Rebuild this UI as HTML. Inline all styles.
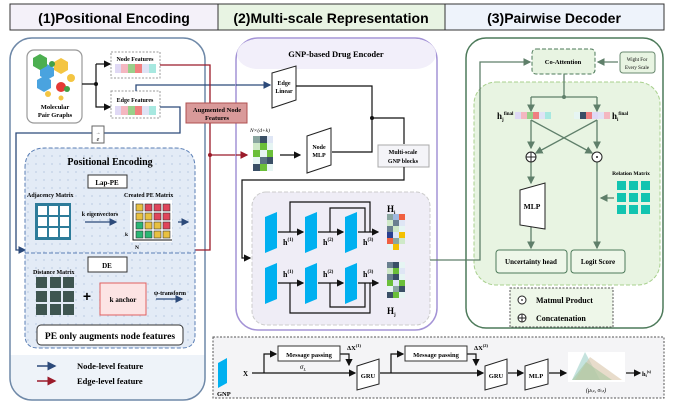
<!DOCTYPE html>
<html><head><meta charset="utf-8"><style>
html,body{margin:0;padding:0;background:#fff;}
svg{display:block;font-family:"Liberation Serif",serif;}
.s{font-family:"Liberation Sans",sans-serif;}
</style></head><body>
<svg width="674" height="403" viewBox="0 0 674 403" xmlns="http://www.w3.org/2000/svg">
<defs>
<marker id="ak" markerWidth="6" markerHeight="6" refX="5" refY="3" orient="auto"><path d="M0,0 L6,3 L0,6z" fill="#111"/></marker>
<marker id="ab" markerWidth="6" markerHeight="6" refX="5" refY="3" orient="auto"><path d="M0,0 L6,3 L0,6z" fill="#2c4a7a"/></marker>
<marker id="ar" markerWidth="6" markerHeight="6" refX="5" refY="3" orient="auto"><path d="M0,0 L6,3 L0,6z" fill="#9b1b2a"/></marker>
<marker id="ag" markerWidth="6" markerHeight="6" refX="5" refY="3" orient="auto"><path d="M0,0 L6,3 L0,6z" fill="#5f7f6a"/></marker>
<pattern id="dots" width="8" height="8" patternUnits="userSpaceOnUse"><rect width="8" height="8" fill="#e3ebf6"/><circle cx="4" cy="4" r="1" fill="#c9d6ea"/></pattern>
<clipPath id="p1"><rect x="10" y="38" width="195" height="362" rx="22"/></clipPath>
</defs>
<!-- headers -->
<rect x="10" y="4" width="208" height="26" fill="#f4f1f9" stroke="#333" stroke-width="1"/>
<rect x="218" y="4" width="227" height="26" fill="#e8f4e3" stroke="#333" stroke-width="1"/>
<rect x="445" y="4" width="219" height="26" fill="#eef3fb" stroke="#333" stroke-width="1"/>
<text x="114" y="23" text-anchor="middle" class="s" font-size="14" font-weight="bold">(1)Positional Encoding</text>
<text x="331" y="23" text-anchor="middle" class="s" font-size="14" font-weight="bold">(2)Multi-scale Representation</text>
<text x="554" y="23" text-anchor="middle" class="s" font-size="14" font-weight="bold">(3)Pairwise Decoder</text>

<!-- panel 1 -->
<rect x="10" y="38" width="195" height="362" rx="22" fill="#fff"/>
<rect x="10" y="355" width="195" height="50" fill="#eef3f9" clip-path="url(#p1)"/>
<rect x="10" y="38" width="195" height="362" rx="22" fill="none" stroke="#6f89a8" stroke-width="1.5"/>
<rect x="27" y="50" width="55" height="73" rx="7" fill="#fff" stroke="#999" stroke-width="1.2"/>
<polygon points="40,68 47,64 54,68 54,76 47,80 40,76" fill="#4aa3df"/>
<polygon points="33,58 40,54 47,58 47,66 40,70 33,66" fill="#4caf50"/>
<polygon points="54,62 61,58 68,62 68,70 61,74 54,70" fill="#f4c542"/>
<polygon points="37,80 44,76 51,80 51,88 44,92 37,88" fill="#4aa3df"/>
<circle cx="71" cy="78" r="4" fill="#f4c542"/><circle cx="61" cy="87" r="5" fill="#e53935"/><circle cx="67" cy="89" r="3" fill="#43a047"/><circle cx="52" cy="64" r="3" fill="#43a047"/><circle cx="48" cy="94" r="3" fill="#f4c542"/><circle cx="61" cy="98" r="2.5" fill="#f4c542"/>
<text x="55" y="109" text-anchor="middle" font-size="6.5" font-weight="bold">Molecular</text>
<text x="55" y="117" text-anchor="middle" font-size="6.5" font-weight="bold">Pair Graphs</text>
<path d="M82,84 L96,84 M96,84 L96,64 M96,84 L96,107 L110,107" stroke="#111" fill="none" stroke-width="1.2" marker-end="url(#ak)"/>
<path d="M96,64 L110,64" stroke="#111" stroke-width="1.2" marker-end="url(#ak)"/>
<circle cx="96" cy="84" r="2" fill="#111"/>
<rect x="111" y="52" width="49" height="26" fill="#fff" stroke="#999" stroke-dasharray="2,1.5"/>
<text x="135" y="61" text-anchor="middle" font-size="6" font-weight="bold">Node Features</text>
<rect x="115" y="64" width="6" height="9" fill="#e0d9f5"/><rect x="121" y="64" width="7" height="9" fill="#f4b7c0"/><rect x="128" y="64" width="7" height="9" fill="#99d08a"/><rect x="135" y="64" width="7" height="9" fill="#f08080"/><rect x="142" y="64" width="7" height="9" fill="#dfe3f5"/><rect x="149" y="64" width="7" height="9" fill="#a7e8e0"/>
<rect x="111" y="91" width="49" height="27" fill="#fff" stroke="#999" stroke-dasharray="2,1.5"/>
<text x="135" y="102" text-anchor="middle" font-size="6" font-weight="bold">Edge Features</text>
<rect x="115" y="106" width="6" height="9" fill="#e0d9f5"/><rect x="121" y="106" width="7" height="9" fill="#f4b7c0"/><rect x="128" y="106" width="7" height="9" fill="#99d08a"/><rect x="135" y="106" width="7" height="9" fill="#f08080"/><rect x="142" y="106" width="7" height="9" fill="#dfe3f5"/><rect x="149" y="106" width="7" height="9" fill="#a7e8e0"/>
<!-- blue lines -->
<path d="M136,91 L136,85 L270,85" stroke="#2c4a7a" fill="none" stroke-width="1.3" marker-end="url(#ab)"/>
<path d="M160,107 L180,107 L180,133 L16,133 L16,250 L25,250" stroke="#2c4a7a" fill="none" stroke-width="1.3" marker-end="url(#ab)"/>
<rect x="92" y="126" width="12" height="17" fill="#fff" stroke="#666"/>
<text x="98" y="134" text-anchor="middle" font-size="5">→</text><text x="98" y="141" text-anchor="middle" font-size="6" font-style="italic">e</text>
<!-- red lines -->
<path d="M160,65 L210,65 L210,250 L195,250" stroke="#9b1b2a" fill="none" stroke-width="1.3"/>
<path d="M210,155 L247,155" stroke="#9b1b2a" stroke-width="1.3" marker-end="url(#ar)"/>
<circle cx="210" cy="155" r="2" fill="#9b1b2a"/>
<!-- PE region -->
<path d="M25,168 Q25,148 45,148 L175,148 Q195,148 195,168 L195,335 Q195,348 182,348 L38,348 Q25,348 25,335z" fill="url(#dots)" stroke="#5b7fb5" stroke-dasharray="4,2"/>
<text x="110" y="165" text-anchor="middle" font-size="10" font-weight="bold">Positional Encoding</text>
<rect x="88" y="175" width="39" height="13" fill="#fff" stroke="#333"/>
<text x="107" y="185" text-anchor="middle" font-size="7" font-weight="bold">Lap-PE</text>
<text x="27" y="197" font-size="6" font-weight="bold">Adjacency Matrix</text>
<text x="124" y="197" font-size="6" font-weight="bold">Created  PE Matrix</text>
<rect x="35" y="203" width="36" height="37" fill="#2e7c9a"/>
<g fill="#fff"><rect x="38" y="206" width="9" height="9"/><rect x="49" y="206" width="9" height="9"/><rect x="60" y="206" width="9" height="9"/><rect x="38" y="217" width="9" height="9"/><rect x="49" y="217" width="9" height="9"/><rect x="60" y="217" width="9" height="9"/><rect x="38" y="228" width="9" height="9"/><rect x="49" y="228" width="9" height="9"/><rect x="60" y="228" width="9" height="9"/></g>
<text x="100" y="216" text-anchor="middle" font-size="6" font-weight="bold">k eigenvectors</text>
<path d="M85,222 L116,222" stroke="#2c4a7a" stroke-width="1.3" marker-end="url(#ab)"/>
<rect x="130" y="200" width="42" height="42" fill="#fff"/>
<path d="M133,201 L133,240 L172,240" stroke="#111" fill="none"/>
<g stroke="#333" stroke-width="0.6">
<rect x="136" y="204" width="7" height="7" fill="#e8c040"/><rect x="145" y="204" width="7" height="7" fill="#e0455a"/><rect x="154" y="204" width="7" height="7" fill="#e0455a"/><rect x="163" y="204" width="7" height="7" fill="#e0455a"/>
<rect x="136" y="213" width="7" height="7" fill="#e8c040"/><rect x="145" y="213" width="7" height="7" fill="#e8c040"/><rect x="154" y="213" width="7" height="7" fill="#e0455a"/><rect x="163" y="213" width="7" height="7" fill="#e0455a"/>
<rect x="136" y="222" width="7" height="7" fill="#2bb673"/><rect x="145" y="222" width="7" height="7" fill="#e8c040"/><rect x="154" y="222" width="7" height="7" fill="#e8c040"/><rect x="163" y="222" width="7" height="7" fill="#e0455a"/>
<rect x="136" y="231" width="7" height="7" fill="#2bb673"/><rect x="145" y="231" width="7" height="7" fill="#2bb673"/><rect x="154" y="231" width="7" height="7" fill="#e8c040"/><rect x="163" y="231" width="7" height="7" fill="#e8c040"/></g>
<text x="125" y="236" font-size="5.5" font-weight="bold">k</text><text x="135" y="249" font-size="5.5" font-weight="bold">N</text>
<path d="M178,222 L188,222" stroke="#2c4a7a" stroke-width="1.3" marker-end="url(#ab)"/>
<line x1="25" y1="253" x2="195" y2="253" stroke="#5b7fb5" stroke-dasharray="4,2"/>
<rect x="88" y="257" width="39" height="15" fill="#fff" stroke="#333"/>
<text x="107" y="268" text-anchor="middle" font-size="7" font-weight="bold">DE</text>
<text x="33" y="274" font-size="6" font-weight="bold">Distance Matrix</text>
<g fill="#3e5550"><rect x="36" y="277" width="11" height="11"/><rect x="50" y="277" width="11" height="11"/><rect x="63" y="277" width="11" height="11"/><rect x="36" y="291" width="11" height="11"/><rect x="50" y="291" width="11" height="11"/><rect x="63" y="291" width="11" height="11"/><rect x="36" y="304" width="11" height="11"/><rect x="50" y="304" width="11" height="11"/><rect x="63" y="304" width="11" height="11"/></g>
<text x="87" y="301" text-anchor="middle" font-size="14" font-weight="bold" class="s">+</text>
<rect x="100" y="283" width="46" height="32" fill="#fce4e4" stroke="#e06060"/>
<text x="123" y="302" text-anchor="middle" font-size="7" font-weight="bold">k anchor</text>
<text x="170" y="295" text-anchor="middle" font-size="6" font-weight="bold">ψ-transform</text>
<path d="M156,299 L182,299" stroke="#2c4a7a" stroke-width="1.3" marker-end="url(#ab)"/>
<rect x="37" y="325" width="146" height="20" rx="4" fill="#fff" stroke="#333"/>
<text x="110" y="339" text-anchor="middle" font-size="9.5" font-weight="bold">PE only augments node features</text>
<path d="M37,366 L55,366" stroke="#2c4a7a" stroke-width="1.5" marker-end="url(#ab)"/>
<path d="M37,381 L55,381" stroke="#9b1b2a" stroke-width="1.5" marker-end="url(#ar)"/>
<text x="77" y="369" font-size="8.5" font-weight="bold">Node-level feature</text>
<text x="77" y="384" font-size="8.5" font-weight="bold">Edge-level feature</text>

<!-- panel 2 -->
<rect x="236" y="38" width="201" height="292" rx="22" fill="#fff" stroke="#a493d6" stroke-width="1.5"/>
<rect x="237" y="39" width="199" height="30" rx="21" fill="#f2effa"/>
<text x="336" y="57" text-anchor="middle" font-size="8.5" font-weight="bold">GNP-based Drug Encoder</text>
<path d="M236,85 L270,85" stroke="#2c4a7a" stroke-width="1.3" marker-end="url(#ab)"/>
<path d="M236,155 L247,155" stroke="#9b1b2a" stroke-width="1.3" marker-end="url(#ar)"/>
<rect x="186" y="103" width="61" height="20" fill="#d99a9a" stroke="#b05050"/>
<text x="217" y="112" text-anchor="middle" font-size="6.5" font-weight="bold">Augmented Node</text>
<text x="217" y="120" text-anchor="middle" font-size="6.5" font-weight="bold">Features</text>
<polygon points="272,73 296,66 296,100 272,108" fill="#fff" stroke="#222"/>
<text x="284" y="85" text-anchor="middle" font-size="6" font-weight="bold">Edge</text><text x="284" y="93" text-anchor="middle" font-size="6" font-weight="bold">Linear</text>
<polygon points="307,136 331,128 331,165 307,173" fill="#fff" stroke="#222"/>
<text x="319" y="149" text-anchor="middle" font-size="6" font-weight="bold">Node</text><text x="319" y="157" text-anchor="middle" font-size="6" font-weight="bold">MLP</text>
<path d="M296,86 L372,86 L372,152 L332,152 M372,118 L404,118 L404,144" stroke="#111" fill="none" stroke-width="1.2"/>
<circle cx="372" cy="118" r="2" fill="#111"/>
<text x="250" y="132" font-size="5.5" font-style="italic">N×(d+k)</text>
<g><rect x="253" y="136" width="7" height="7" fill="#8aa6a0"/><rect x="260" y="136" width="7" height="7" fill="#3a4f66"/><rect x="267" y="136" width="6" height="7" fill="#dfe6f5"/>
<rect x="253" y="143" width="7" height="7" fill="#cfe9c8"/><rect x="260" y="143" width="7" height="7" fill="#6bbf3a"/><rect x="267" y="143" width="6" height="7" fill="#e6f5f3"/>
<rect x="253" y="150" width="7" height="7" fill="#6bbf3a"/><rect x="260" y="150" width="7" height="7" fill="#e6f5f3"/><rect x="267" y="150" width="6" height="7" fill="#6bbf3a"/>
<rect x="253" y="157" width="7" height="7" fill="#e6f5f3"/><rect x="260" y="157" width="7" height="7" fill="#5a7282"/><rect x="267" y="157" width="6" height="7" fill="#3a4f66"/>
<rect x="253" y="164" width="7" height="7" fill="#3a4f66"/><rect x="260" y="164" width="7" height="7" fill="#6bbf3a"/><rect x="267" y="164" width="6" height="7" fill="#e6f5f3"/></g>
<path d="M280,155 L300,155" stroke="#111" stroke-width="1.2" marker-end="url(#ak)"/>
<rect x="378" y="145" width="51" height="22" fill="#f4f4f8" stroke="#aaa"/>
<text x="403" y="154" text-anchor="middle" font-size="6" font-weight="bold">Multi-scale</text><text x="403" y="163" text-anchor="middle" font-size="6" font-weight="bold">GNP blocks</text>
<path d="M404,167 L404,180 L242,180 L242,258 L250,258" stroke="#111" fill="none" stroke-width="1.2" marker-end="url(#ak)"/>
<rect x="252" y="192" width="178" height="133" rx="14" fill="#efedf6" stroke="#ccc" stroke-dasharray="4,2"/>
<g fill="#00b0f0">
<polygon points="265,217 277,212 277,248 265,253"/><polygon points="305,217 317,212 317,248 305,253"/><polygon points="345,217 357,212 357,248 345,253"/>
<polygon points="265,268 277,263 277,299 265,304"/><polygon points="305,268 317,263 317,299 305,304"/><polygon points="345,268 357,263 357,299 345,304"/></g>
<g stroke="#111" fill="none" stroke-width="1.2">
<path d="M278,232 L303,232" marker-end="url(#ak)"/><path d="M318,232 L343,232" marker-end="url(#ak)"/><path d="M358,232 L378,232" marker-end="url(#ak)"/>
<path d="M290,232 L290,202 L370,202 L370,232"/><path d="M330,232 L330,208 L365,208 L365,232"/>
<path d="M278,283 L303,283" marker-end="url(#ak)"/><path d="M318,283 L343,283" marker-end="url(#ak)"/><path d="M358,283 L378,283" marker-end="url(#ak)"/>
<path d="M290,283 L290,313 L370,313 L370,283"/><path d="M330,283 L330,307 L365,307 L365,283"/></g>
<g font-size="8" font-weight="bold"><text x="283" y="245">h<tspan font-size="5" dy="-4">(1)</tspan></text><text x="323" y="245">h<tspan font-size="5" dy="-4">(2)</tspan></text><text x="363" y="245">h<tspan font-size="5" dy="-4">(3)</tspan></text>
<text x="283" y="277">h<tspan font-size="5" dy="-4">(1)</tspan></text><text x="323" y="277">h<tspan font-size="5" dy="-4">(2)</tspan></text><text x="363" y="277">h<tspan font-size="5" dy="-4">(3)</tspan></text></g>
<text x="387" y="212" font-size="9" font-weight="bold">H<tspan font-size="5" dy="2">i</tspan></text>
<text x="387" y="314" font-size="9" font-weight="bold">H<tspan font-size="5" dy="2">j</tspan></text>
<g><rect x="387" y="214" width="6" height="6" fill="#8aa6a0"/><rect x="393" y="214" width="6" height="6" fill="#a0b8e0"/><rect x="399" y="214" width="6" height="6" fill="#f06040"/>
<rect x="387" y="220" width="6" height="6" fill="#cfe9c8"/><rect x="393" y="220" width="6" height="6" fill="#6a8090"/><rect x="399" y="220" width="6" height="6" fill="#dfe6f5"/>
<rect x="387" y="226" width="6" height="6" fill="#6a8090"/><rect x="393" y="226" width="6" height="6" fill="#cfe9c8"/><rect x="399" y="226" width="6" height="6" fill="#e6f5f3"/>
<rect x="387" y="232" width="6" height="6" fill="#2a4090"/><rect x="393" y="232" width="6" height="6" fill="#dfe6f5"/><rect x="399" y="232" width="6" height="6" fill="#f4c000"/>
<rect x="387" y="238" width="6" height="6" fill="#f06040"/><rect x="393" y="238" width="6" height="6" fill="#8aa6a0"/><rect x="399" y="238" width="6" height="6" fill="#cfe9c8"/>
<rect x="393" y="244" width="6" height="6" fill="#f4c000"/><rect x="387" y="244" width="6" height="6" fill="#e6f5f3"/></g>
<g><rect x="387" y="262" width="6" height="6" fill="#6a8090"/><rect x="393" y="262" width="6" height="6" fill="#3a4f66"/><rect x="399" y="262" width="6" height="6" fill="#e6f5f3"/>
<rect x="387" y="268" width="6" height="6" fill="#cfe9c8"/><rect x="393" y="268" width="6" height="6" fill="#6bbf3a"/><rect x="399" y="268" width="6" height="6" fill="#dfe6f5"/>
<rect x="387" y="274" width="6" height="6" fill="#6a8090"/><rect x="393" y="274" width="6" height="6" fill="#3a4f66"/><rect x="399" y="274" width="6" height="6" fill="#e6f5f3"/>
<rect x="387" y="280" width="6" height="6" fill="#6bbf3a"/><rect x="393" y="280" width="6" height="6" fill="#dfe6f5"/><rect x="399" y="280" width="6" height="6" fill="#6bbf3a"/>
<rect x="387" y="286" width="6" height="6" fill="#e6f5f3"/><rect x="393" y="286" width="6" height="6" fill="#8aa6a0"/><rect x="399" y="286" width="6" height="6" fill="#3a4f66"/>
<rect x="387" y="292" width="6" height="6" fill="#3a4f66"/><rect x="393" y="292" width="6" height="6" fill="#6bbf3a"/><rect x="399" y="292" width="6" height="6" fill="#e6f5f3"/></g>

<!-- connector to panel 3 -->
<path d="M430,260 L480,260 L480,62 L530,62" stroke="#5f7f6a" fill="none" stroke-width="1.3" marker-end="url(#ag)"/>

<!-- panel 3 -->
<rect x="466" y="38" width="197" height="290" rx="20" fill="#fff" stroke="#4d7a5a" stroke-width="1.5"/>
<rect x="474" y="82" width="186" height="203" rx="22" fill="#e8f4e2" stroke="#a8d08d" stroke-dasharray="4,2"/>
<path d="M466,260 L480,260 L480,62 L530,62" stroke="#5f7f6a" fill="none" stroke-width="1.3" marker-end="url(#ag)"/>
<rect x="532" y="49" width="63" height="25" rx="4" fill="#e8f4e2" stroke="#4d7a5a" stroke-dasharray="4,2"/>
<text x="563" y="64" text-anchor="middle" font-size="6.5" font-weight="bold">Co-Attention</text>
<rect x="620" y="52" width="35" height="21" rx="3" fill="#e8f4e2" stroke="#6a8a70"/>
<text x="637" y="61" text-anchor="middle" font-size="5">Wight For</text><text x="637" y="69" text-anchor="middle" font-size="5">Every Scale</text>
<g stroke="#5f7f6a" stroke-width="1.3" fill="none">
<path d="M618,62 L598,62" marker-end="url(#ag)"/>
<path d="M564,74 L564,97 M531,97 L597,97"/>
<path d="M531,97 L531,111" marker-end="url(#ag)"/><path d="M597,97 L597,111" marker-end="url(#ag)"/>
<path d="M531,120 L531,148" marker-end="url(#ag)"/><path d="M597,120 L597,148" marker-end="url(#ag)"/>
<path d="M531,120 L592,153" marker-end="url(#ag)"/><path d="M597,120 L536,153" marker-end="url(#ag)"/>
<path d="M531,162 L531,183" marker-end="url(#ag)"/>
<path d="M597,162 L597,248" marker-end="url(#ag)"/>
<path d="M531,225 L531,248" marker-end="url(#ag)"/>
<path d="M614,198 L601,198" marker-end="url(#ag)"/></g>
<circle cx="564" cy="97" r="2" fill="#5f7f6a"/>
<circle cx="531" cy="157" r="5" fill="#fff" stroke="#222"/><path d="M526,157 L536,157 M531,152 L531,162" stroke="#222"/>
<circle cx="597" cy="157" r="5" fill="#fff" stroke="#222"/><circle cx="597" cy="157" r="1" fill="#222"/>
<text x="497" y="119" font-size="9" font-weight="bold">h<tspan font-size="5" dy="2">j</tspan><tspan font-size="5" dy="-6">final</tspan></text>
<g><rect x="515" y="112" width="6" height="7" fill="#dfd9f5"/><rect x="521" y="112" width="6" height="7" fill="#f4b7c0"/><rect x="527" y="112" width="6" height="7" fill="#99d08a"/><rect x="533" y="112" width="6" height="7" fill="#f08080"/><rect x="539" y="112" width="6" height="7" fill="#dfe3f5"/><rect x="545" y="112" width="6" height="7" fill="#a7e8e0"/></g>
<g><rect x="574" y="112" width="6" height="7" fill="#e6f5f3"/><rect x="580" y="112" width="6" height="7" fill="#3a4f66"/><rect x="586" y="112" width="6" height="7" fill="#f08080"/><rect x="592" y="112" width="6" height="7" fill="#dfd9f5"/><rect x="598" y="112" width="6" height="7" fill="#e0e3f5"/><rect x="604" y="112" width="6" height="7" fill="#f4b7c0"/></g>
<text x="612" y="119" font-size="9" font-weight="bold">h<tspan font-size="5" dy="2">i</tspan><tspan font-size="5" dy="-6">final</tspan></text>
<polygon points="520,190 545,183 545,229 520,225" fill="#fff" stroke="#222"/>
<text x="532" y="209" text-anchor="middle" font-size="7.5" font-weight="bold">MLP</text>
<text x="631" y="175" text-anchor="middle" font-size="5.5" font-weight="bold">Relation Matrix</text>
<g fill="#12c4b0"><rect x="617" y="181" width="9" height="9"/><rect x="629" y="181" width="9" height="9"/><rect x="641" y="181" width="9" height="9"/><rect x="617" y="193" width="9" height="9"/><rect x="629" y="193" width="9" height="9"/><rect x="641" y="193" width="9" height="9"/><rect x="617" y="205" width="9" height="9"/><rect x="629" y="205" width="9" height="9"/><rect x="641" y="205" width="9" height="9"/></g>
<rect x="496" y="250" width="71" height="23" rx="3" fill="#eef7e9" stroke="#4d7a5a"/>
<text x="531" y="264" text-anchor="middle" font-size="7" font-weight="bold">Uncertainty head</text>
<rect x="571" y="250" width="54" height="23" rx="3" fill="#eef7e9" stroke="#4d7a5a"/>
<text x="598" y="264" text-anchor="middle" font-size="7" font-weight="bold">Logit Score</text>
<rect x="510" y="288" width="103" height="39" fill="#eef7e9" stroke="#555" stroke-dasharray="2,1.5"/>
<circle cx="522" cy="300" r="4" fill="#fff" stroke="#222"/><circle cx="522" cy="300" r="0.9" fill="#222"/>
<circle cx="522" cy="318" r="4" fill="#fff" stroke="#222"/><path d="M518,318 L526,318 M522,314 L522,322" stroke="#222"/>
<text x="536" y="303" font-size="8" font-weight="bold">Matmul Product</text>
<text x="536" y="321" font-size="8" font-weight="bold">Concatenation</text>

<!-- bottom box -->
<rect x="213" y="337" width="451" height="61" fill="#f4f4f6" stroke="#555" stroke-dasharray="2,1.5"/>
<polygon points="218,363 227,358 227,383 218,388" fill="#00b0f0"/>
<text x="217" y="396" font-size="6.5" font-weight="bold">GNP</text>
<text x="243" y="376" font-size="7" font-weight="bold">X</text>
<g stroke="#111" stroke-width="1.2" fill="none">
<path d="M252,373 L355,373" marker-end="url(#ak)"/>
<path d="M264,373 L264,354 L276,354" marker-end="url(#ak)"/>
<path d="M340,354 L349,354 L349,365" marker-end="url(#ak)"/>
<path d="M380,373 L483,373" marker-end="url(#ak)"/>
<path d="M391,373 L391,354 L403,354" marker-end="url(#ak)"/>
<path d="M467,354 L476,354 L476,365" marker-end="url(#ak)"/>
<path d="M508,373 L523,373" marker-end="url(#ak)"/>
<path d="M549,373 L566,373" marker-end="url(#ak)"/>
<path d="M626,373 L640,373" marker-end="url(#ak)"/></g>
<rect x="278" y="346" width="62" height="15" fill="#fff" stroke="#333"/>
<text x="309" y="357" text-anchor="middle" font-size="6.5" font-weight="bold">Message passing</text>
<rect x="405" y="346" width="62" height="15" fill="#fff" stroke="#333"/>
<text x="436" y="357" text-anchor="middle" font-size="6.5" font-weight="bold">Message passing</text>
<text x="347" y="350" font-size="6.5" font-weight="bold">ΔX<tspan font-size="4.5" dy="-3">(1)</tspan></text>
<text x="474" y="350" font-size="6.5" font-weight="bold">ΔX<tspan font-size="4.5" dy="-3">(2)</tspan></text>
<text x="300" y="369" font-size="7" font-style="italic">σ<tspan font-size="4.5" dy="2">L</tspan></text>
<polygon points="357,366 379,359 379,384 357,390" fill="#fff" stroke="#222"/>
<text x="368" y="378" text-anchor="middle" font-size="6.5" font-weight="bold">GRU</text>
<polygon points="485,366 507,359 507,384 485,390" fill="#fff" stroke="#222"/>
<text x="496" y="378" text-anchor="middle" font-size="6.5" font-weight="bold">GRU</text>
<polygon points="525,366 548,359 548,384 525,390" fill="#fff" stroke="#222"/>
<text x="536" y="378" text-anchor="middle" font-size="6.5" font-weight="bold">MLP</text>
<rect x="568" y="352" width="57" height="30" fill="#fff"/>
<polygon points="572,380 585,352 600,380" fill="#b7dcd6" opacity="0.8"/>
<polygon points="575,380 590,357 622,380" fill="#d8c4a8" opacity="0.6"/>
<polygon points="572,380 586,362 612,380" fill="#a8c8a0" opacity="0.6"/>
<text x="596" y="392" text-anchor="middle" font-size="6" font-style="italic">(μ<tspan font-size="4">t,z</tspan>, σ<tspan font-size="4">t,z</tspan>)</text>
<text x="642" y="376" font-size="6.5" font-weight="bold">h<tspan font-size="4" dy="1">i</tspan><tspan font-size="4" dy="-4">(s)</tspan></text>
</svg>
</body></html>
